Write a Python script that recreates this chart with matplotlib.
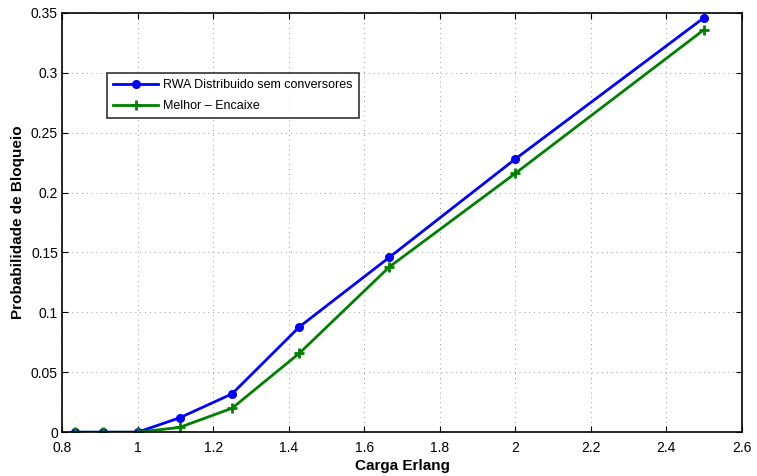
import matplotlib
matplotlib.use('Agg')
import matplotlib.pyplot as plt

plt.rcParams['font.family'] = ['Liberation Sans', 'DejaVu Sans']

# carga (Erlang) e probabilidade de bloqueio
carga = [0.8333, 0.9091, 1.0, 1.1111, 1.25, 1.4286, 1.6667, 2.0, 2.5]
rwa_dist = [0.0, 0.0, 0.0, 0.012, 0.032, 0.088, 0.146, 0.228, 0.346]
melhor_encaixe = [0.0, 0.0, 0.0, 0.004, 0.020, 0.066, 0.138, 0.216, 0.336]

fig = plt.figure(figsize=(7.57, 4.76), dpi=100)
ax = fig.add_axes([0.082, 0.092, 0.898, 0.881])

ax.plot(carga, rwa_dist, color='#0000ff', lw=2, marker='o', ms=5.5,
        label='RWA Distribuido sem conversores')
ax.plot(carga, melhor_encaixe, color='#008000', lw=2, marker='+', ms=7, mew=2,
        label='Melhor \u2013 Encaixe')

ax.set_xlim(0.8, 2.6)
ax.set_ylim(0, 0.35)
ax.set_xticks([0.8, 1, 1.2, 1.4, 1.6, 1.8, 2, 2.2, 2.4, 2.6])
ax.set_xticklabels(['0.8', '1', '1.2', '1.4', '1.6', '1.8', '2', '2.2', '2.4', '2.6'])
ax.set_yticks([0, 0.05, 0.1, 0.15, 0.2, 0.25, 0.3, 0.35])
ax.set_yticklabels(['0', '0.05', '0.1', '0.15', '0.2', '0.25', '0.3', '0.35'])
ax.grid(True, color='#999999', linestyle=(0, (1, 4)), linewidth=0.7)
ax.tick_params(direction='in', labelsize=10, length=4, top=True, right=True)
ax.tick_params(axis='x', pad=6)
ax.tick_params(axis='y', pad=3)
for s in ax.spines.values():
    s.set_linewidth(1.2)

ax.set_xlabel('Carga Erlang', fontsize=11, fontweight='bold', labelpad=3)
ax.set_ylabel('Probabilidade de Bloqueio', fontsize=11, fontweight='bold', labelpad=4)

leg = ax.legend(loc='upper left', bbox_to_anchor=(0.066, 0.856), fontsize=9,
                frameon=True, fancybox=False, edgecolor='black',
                borderpad=0.5, handlelength=3.6, labelspacing=0.7,
                handletextpad=0.4, borderaxespad=0)
leg.get_frame().set_linewidth(1.2)

fig.savefig('out.png', dpi=100)
